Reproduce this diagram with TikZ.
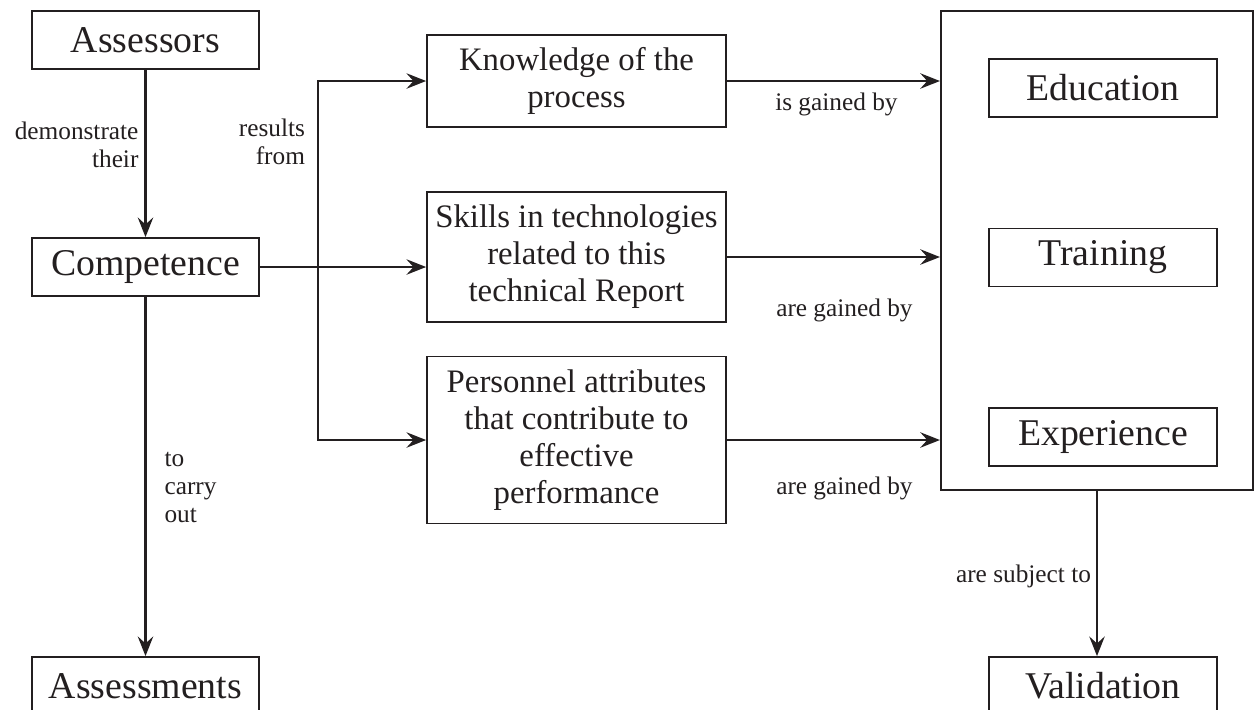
\documentclass[tikz,border=0pt]{standalone}
\usepackage{fontspec}
\setmainfont{Liberation Serif}
\usetikzlibrary{positioning, arrows.meta}
\definecolor{ink}{HTML}{231F20}

\begin{document}
\begin{tikzpicture}[line width=0.6pt]
    \tikzset{
        >={Stealth[length=5.6pt, width=4.4pt, inset=2pt]}, % concave arrow tips
        link/.style={draw=ink, line width=0.6pt}, % connectors
        box/.style={draw=ink, line width=0.5pt, inner sep=0pt, align=center, text=ink}, % all boxes
        bigbox/.style={box, minimum width=2.27cm, minimum height=0.58cm, font=\fontsize{10.75}{12}\selectfont},
        midbox/.style={box, minimum width=2.99cm, font=\fontsize{9.33}{10.5}\selectfont},
        lbl/.style={inner sep=0pt, text=ink, font=\fontsize{7.2}{8}\selectfont}, % edge labels
    }
    \useasboundingbox (0,0) rectangle (12.55,-7.09);

    % left column
    \node[bigbox] (assessors) at (1.455,-0.40) {Assessors};
    \node[bigbox, below of=assessors, node distance=2.27cm] (competence) {Competence};
    \node[bigbox, below of=competence, node distance=4.19cm] (assessments) {Assessments};

    % middle column
    \node[midbox, minimum height=0.92cm] (knowledge) at (5.765,-0.81) {Knowledge of the\\process};
    \node[midbox, minimum height=1.30cm, below of=knowledge, node distance=1.76cm] (skills) {Skills in technologies\\related to this\\technical Report};
    \node[midbox, minimum height=1.67cm, below of=skills, node distance=1.83cm] (personnel) {Personnel attributes\\that contribute to\\effective\\performance};

    % right column
    \node[box, minimum width=3.12cm, minimum height=4.79cm, line width=0.6pt] (quals) at (10.97,-2.505) {};
    \node[bigbox, minimum width=2.28cm] (education) at (11.03,-0.88) {Education};
    \node[bigbox, minimum width=2.28cm, below of=education, node distance=1.695cm] (training) {Training};
    \node[bigbox, minimum width=2.28cm, below of=training, node distance=1.795cm] (experience) {Experience};
    \node[bigbox, minimum width=2.28cm, below of=experience, node distance=2.49cm] (validation) {Validation};

    \coordinate (trunk) at (3.18,0);

    \draw[link, ->] (assessors) -- node[lbl, left=0.06cm, align=right, pos=0.45] {demonstrate\\their} (competence);
    \draw[link, ->] (competence) -- node[lbl, right=0.18cm, align=left, pos=0.53] {to\\carry\\out} (assessments);
    \draw[link, ->] (competence.east) -- (competence.east -| skills.west);
    \draw[link, <->] (knowledge.west) -- (knowledge.west -| trunk)
        -- node[lbl, left=0.12cm, align=right, pos=0.17] {results\\from} (personnel.west -| trunk)
        -- (personnel.west);

    \draw[link, ->] (knowledge.east) -- node[lbl, xshift=0.03cm, yshift=-0.23cm] {is gained by} (knowledge.east -| quals.west);
    \draw[link, ->] (skills.east) -- node[lbl, xshift=0.11cm, yshift=-0.53cm] {are gained by} (skills.east -| quals.west);
    \draw[link, ->] (personnel.east) -- node[lbl, xshift=0.11cm, yshift=-0.48cm] {are gained by} (personnel.east -| quals.west);
    \draw[link, ->] (quals.south) -- node[lbl, left=0.05cm, pos=0.52] {are subject to} (quals.south |- validation.north);
\end{tikzpicture}
\end{document}
